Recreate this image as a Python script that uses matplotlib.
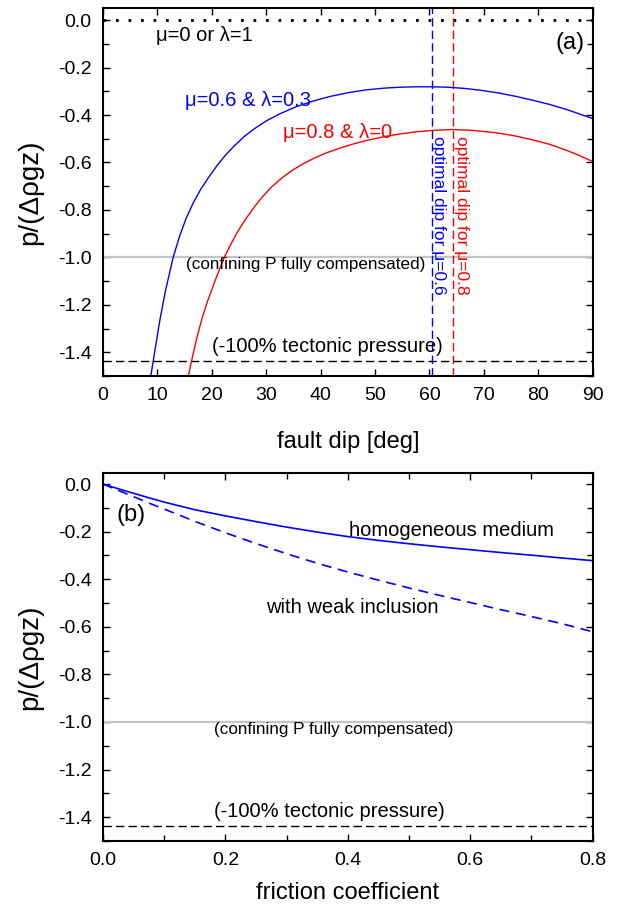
import matplotlib
matplotlib.use("Agg")
import matplotlib.pyplot as plt
from matplotlib.ticker import MultipleLocator, FormatStrFormatter

plt.rcParams['font.family'] = ['Liberation Sans', 'DejaVu Sans']
plt.rcParams['axes.unicode_minus'] = False

# panel (a): pressure vs fault dip
dip_blue = [8.8, 9.5, 10.5, 11.5, 12.9, 14.1, 15.3, 16.6, 18.0, 19.5, 21.0, 22.5, 24.0,
            26.0, 28.0, 30.0, 32.5, 35.5, 38.5, 41.7, 45.0, 48.4, 51.5, 54.5, 57.5,
            60.5, 63.5, 66.5, 69.5, 72.9, 76.0, 79.0, 82.0, 85.1, 87.5, 90.0]
p_blue = [-1.50, -1.40, -1.26, -1.14, -1.00, -0.91, -0.835, -0.77, -0.712, -0.66,
          -0.612, -0.57, -0.533, -0.49, -0.455, -0.425, -0.395, -0.365, -0.342,
          -0.322, -0.306, -0.294, -0.287, -0.283, -0.281, -0.281, -0.283, -0.288,
          -0.296, -0.308, -0.322, -0.338, -0.355, -0.376, -0.395, -0.415]
dip_red = [15.7, 16.3, 17.3, 18.3, 19.3, 20.5, 21.5, 22.5, 23.5, 24.5, 25.5, 26.5,
           28.0, 29.5, 31.0, 33.0, 35.0, 37.0, 39.0, 41.0, 43.5, 46.0, 48.5, 51.5,
           54.5, 57.5, 60.5, 64.3, 68.0, 72.0, 75.5, 79.0, 82.0, 85.0, 87.5, 90.0]
p_red = [-1.50, -1.435, -1.335, -1.25, -1.18, -1.105, -1.045, -0.99, -0.945, -0.902,
         -0.864, -0.83, -0.782, -0.740, -0.703, -0.663, -0.630, -0.603, -0.580,
         -0.560, -0.540, -0.522, -0.507, -0.492, -0.480, -0.471, -0.465, -0.461,
         -0.465, -0.474, -0.487, -0.505, -0.523, -0.547, -0.570, -0.596]
opt_dip_06 = 60.48
opt_dip_08 = 64.33

# panel (b): pressure vs friction coefficient
mu_b = [0.0, 0.025, 0.05, 0.075, 0.1, 0.15, 0.2, 0.25, 0.3, 0.35, 0.4, 0.45, 0.5,
        0.55, 0.6, 0.65, 0.7, 0.75, 0.8]
p_homog = [0.0, -0.02, -0.039, -0.058, -0.076, -0.108, -0.134, -0.158, -0.181, -0.202,
           -0.221, -0.237, -0.251, -0.264, -0.276, -0.288, -0.299, -0.311, -0.322]
p_weak = [0.0, -0.027, -0.053, -0.080, -0.105, -0.157, -0.205, -0.250, -0.293, -0.333,
          -0.370, -0.404, -0.437, -0.468, -0.498, -0.528, -0.557, -0.587, -0.621]

p_confining = -1.0
p_tectonic = -1.435

fig = plt.figure(figsize=(6.2, 9.16), dpi=100)
ax1 = fig.add_axes([0.166, 0.5895, 0.79, 0.4015])
ax2 = fig.add_axes([0.166, 0.0819, 0.79, 0.4014])

# ---- panel (a)
ax1.axhline(0.0, color='black', lw=2, ls=(0, (1, 3.5)))
ax1.axhline(p_confining, color='#c4c4c4', lw=1.6)
ax1.axhline(p_tectonic, color='black', lw=1, ls=(0, (6, 3)))
ax1.axvline(opt_dip_06, color='blue', lw=1, ls=(0, (6, 3)))
ax1.axvline(opt_dip_08, color='red', lw=1, ls=(0, (6, 3)))
ax1.plot(dip_blue, p_blue, color='blue', lw=1)
ax1.plot(dip_red, p_red, color='red', lw=1)

ax1.text(9.8, -0.063, 'μ=0 or λ=1', fontsize=14.5, va='center')
ax1.text(88.5, -0.097, '(a)', fontsize=17, va='center', ha='right')
ax1.text(15.1, -0.34, 'μ=0.6 & λ=0.3', fontsize=14.5, color='blue', va='center')
ax1.text(33.1, -0.472, 'μ=0.8 & λ=0', fontsize=14.5, color='red', va='center')
ax1.text(15.2, -1.03, '(confining P fully compensated)', fontsize=12.3, va='center')
ax1.text(20.1, -1.376, '(-100% tectonic pressure)', fontsize=14.5, va='center')
ax1.text(61.7, -0.49, 'optimal dip for μ=0.6', fontsize=12.5, color='blue',
         rotation=270, ha='center', va='top')
ax1.text(65.9, -0.49, 'optimal dip for μ=0.8', fontsize=12.5, color='red',
         rotation=270, ha='center', va='top')

ax1.set_xlim(0, 90)
ax1.set_ylim(-1.5, 0.05)
ax1.xaxis.set_major_locator(MultipleLocator(10))
ax1.yaxis.set_major_locator(MultipleLocator(0.2))
ax1.yaxis.set_minor_locator(MultipleLocator(0.1))
ax1.set_xlabel('fault dip [deg]', fontsize=17, labelpad=19)
ax1.set_ylabel('p/(Δρgz)', fontsize=20, labelpad=11)

# ---- panel (b)
ax2.axhline(p_confining, color='#c4c4c4', lw=1.6)
ax2.axhline(p_tectonic, color='black', lw=1, ls=(0, (6, 3)))
ax2.plot(mu_b, p_homog, color='blue', lw=1.2)
ax2.plot(mu_b, p_weak, color='blue', lw=1.2, ls=(0, (6, 4)))

ax2.text(0.022, -0.13, '(b)', fontsize=17, va='center')
ax2.text(0.402, -0.197, 'homogeneous medium', fontsize=14.5, va='center')
ax2.text(0.266, -0.517, 'with weak inclusion', fontsize=14.5, va='center')
ax2.text(0.181, -1.033, '(confining P fully compensated)', fontsize=12.3, va='center')
ax2.text(0.181, -1.376, '(-100% tectonic pressure)', fontsize=14.5, va='center')

ax2.set_xlim(0, 0.8)
ax2.set_ylim(-1.5, 0.045)
ax2.xaxis.set_major_locator(MultipleLocator(0.2))
ax2.xaxis.set_minor_locator(MultipleLocator(0.1))
ax2.yaxis.set_major_locator(MultipleLocator(0.2))
ax2.yaxis.set_minor_locator(MultipleLocator(0.1))
ax2.xaxis.set_major_formatter(FormatStrFormatter('%.1f'))
ax2.set_xlabel('friction coefficient', fontsize=17, labelpad=9)
ax2.set_ylabel('p/(Δρgz)', fontsize=20, labelpad=11)

for ax in (ax1, ax2):
    for s in ax.spines.values():
        s.set_linewidth(1.5)
    ax.tick_params(which='both', direction='in', top=True, right=True, labelsize=14)
    ax.tick_params(which='major', length=5, width=1)
    ax.tick_params(which='minor', length=4, width=1)
    ax.tick_params(axis='x', pad=8)
    ax.tick_params(axis='y', pad=8)

fig.savefig('out.png', dpi=100)
